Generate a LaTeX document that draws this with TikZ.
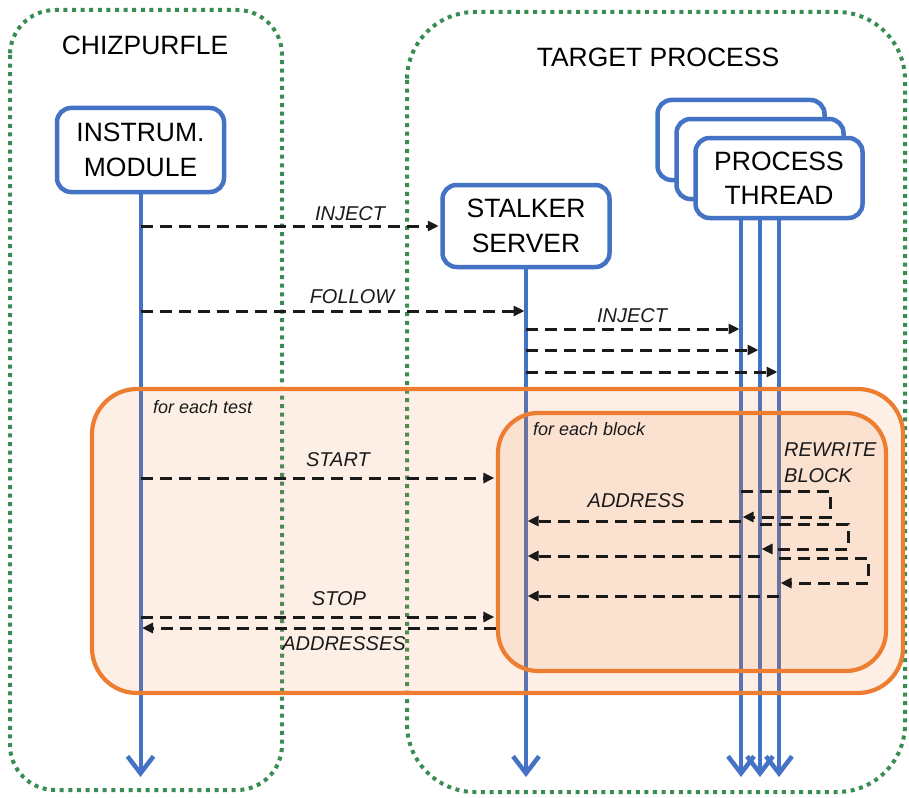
\documentclass[tikz,border=0pt]{standalone}
\usepackage{fontspec}
\setmainfont{Liberation Sans}
\usetikzlibrary{arrows.meta,backgrounds}
\definecolor{bblue}{HTML}{4472C4}
\definecolor{orng}{HTML}{ED7D31}
\definecolor{grn}{HTML}{3A8C55}
\definecolor{ink}{HTML}{1A1A1A}
\begin{document}
\begin{tikzpicture}[x=1pt,y=-1pt,
  grp/.style={draw=grn, line width=4pt, dash pattern=on 4pt off 4.6pt, rounded corners=#1},
  head/.style={font=\fontsize{26.5}{34}\selectfont, inner sep=0pt, anchor=base},
  actor/.style={draw=bblue, line width=4.5pt, fill=white, rounded corners=14pt, align=center,
    font=\fontsize{26.5}{34.5}\selectfont, minimum width=167pt, minimum height=#1, inner sep=0pt},
  life/.style={draw=bblue, line width=4pt, -{Straight Barb[length=17pt,width=26pt,line width=4.5pt]}},
  loopbox/.style={draw=orng, line width=4.2pt, fill=orng, fill opacity=0.12, rounded corners=#1, inner sep=0pt},
  msg/.style={draw=ink, line width=3pt, dash pattern=on 12pt off 7pt, shorten >=1.5pt,
    -{Triangle[length=11pt,width=10pt]}},
  lbl/.style={font=\fontsize{20}{24}\selectfont\itshape, text=ink, inner sep=0pt, anchor=base},
  small/.style={font=\fontsize{18}{22}\selectfont\itshape, text=ink, inner sep=0pt, anchor=base west}
]
\useasboundingbox (0,0) rectangle (909,797);

% headings
\node[head] (chz) at (145,55) {CHIZPURFLE};
\node[head] (tgt) at (658,67) {TARGET PROCESS};

% actors
\node[actor=80pt] (t3) at (741,140) {};
\node[actor=80pt] (t2) at (760,159) {};
\node[actor=80pt] (t1) at (779,178) {PROCESS\\THREAD};
\node[actor=84pt] (im) at (140.5,150) {INSTRUM.\\MODULE};
\node[actor=82pt] (ss) at (526,226) {STALKER\\SERVER};

\begin{scope}[on background layer]
  \draw[grp=45] (10,10) rectangle (282,790);
  \draw[grp=68] (407,12) rectangle (905,792);
  \draw[life] (im.south) -- (im.south |- 0,777);
  \draw[life] (ss.south) -- (ss.south |- 0,777);
  \draw[life] (t3.south) -- (t3.south |- 0,777);
  \draw[life] (t2.south) -- (t2.south |- 0,777);
  \draw[life] (t1.south) -- (t1.south |- 0,777);
\end{scope}

% loop frames
\node[loopbox=45pt, minimum width=811pt, minimum height=304pt] (fe) at (497.5,541) {};
\node[loopbox=40pt, minimum width=388pt, minimum height=258pt] (fb) at (692,542) {};
\node[small] (fet) at (153,413) {for each test};
\node[small] (fbt) at (533,435) {for each block};

% messages
\draw[msg] (im.south |- 0,226) -- (ss.west |- 0,226);
\node[lbl] (l1) at (350,220) {INJECT};
\draw[msg] (im.south |- 0,311) -- (ss.south |- 0,311);
\node[lbl] (l2) at (352,303) {FOLLOW};
\draw[msg] (ss.south |- 0,329) -- (t3.south |- 0,329);
\draw[msg] (ss.south |- 0,350) -- (t2.south |- 0,350);
\draw[msg] (ss.south |- 0,372) -- (t1.south |- 0,372);
\node[lbl] (l3) at (632,322) {INJECT};

\draw[msg] (im.south |- 0,478) -- (fb.west |- 0,478);
\node[lbl] (l4) at (338,466) {START};

\node[lbl, anchor=base west] (rw) at (784,456) {REWRITE};
\node[lbl, anchor=base west] (rb) at (784,482) {BLOCK};

\draw[msg] (t3.south |- 0,491) -- ++(89,0) -- ++(0,26) -- (t3.south |- 0,517);
\draw[msg] (t3.south |- 0,521) -- (ss.south |- 0,521);
\node[lbl] (l5) at (636,507) {ADDRESS};
\draw[msg] (t2.south |- 0,524) -- ++(88,0) -- ++(0,25) -- (t2.south |- 0,549);
\draw[msg] (t2.south |- 0,556) -- (ss.south |- 0,556);
\draw[msg] (t1.south |- 0,558) -- ++(89,0) -- ++(0,25) -- (t1.south |- 0,583);
\draw[msg] (t1.south |- 0,596) -- (ss.south |- 0,596);

\draw[msg] (im.south |- 0,617) -- (fb.west |- 0,617);
\node[lbl] (l6) at (339,605) {STOP};
\draw[msg] (fb.west |- 0,628) -- (im.south |- 0,628);
\node[lbl] (l7) at (344,650) {ADDRESSES};
\end{tikzpicture}
\end{document}
